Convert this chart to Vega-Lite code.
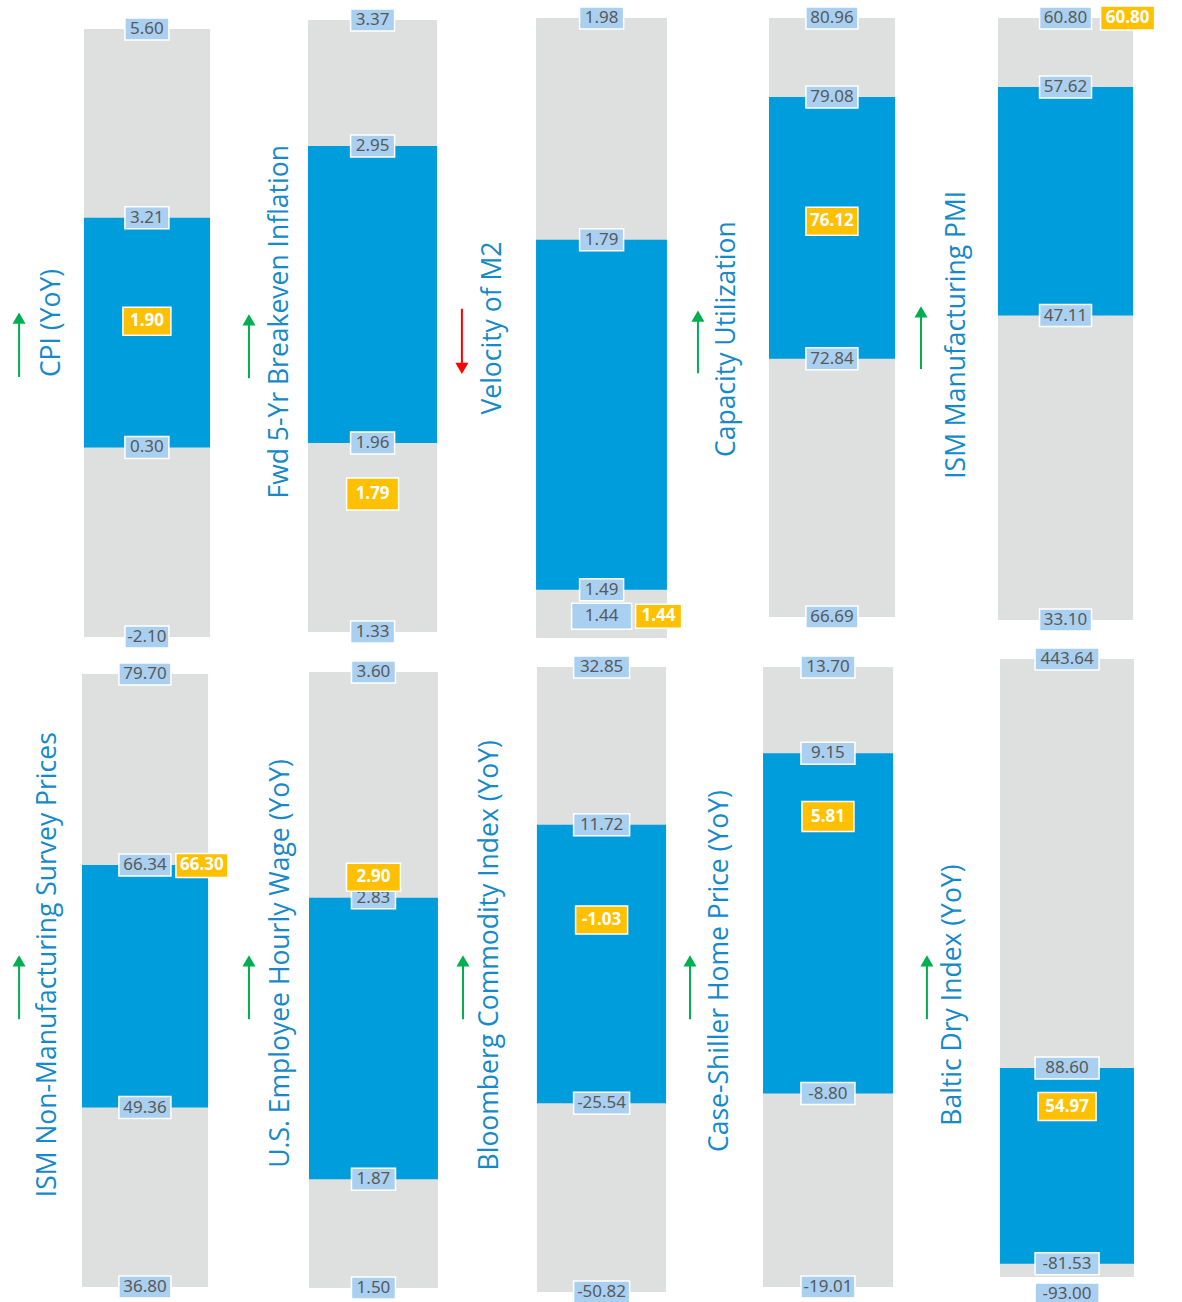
{
"$schema": "https://vega.github.io/schema/vega-lite/v6.json",
"padding": {"left": 5, "top": 3, "right": 0, "bottom": 0},
"background": "white",
"config": {"view": {"stroke": null}, "locale": {"number": {"decimal": ".", "thousands": ",", "grouping": [3], "currency": ["$", ""], "minus": "-"}}},
"datasets": {"stats": [
 {"name":"CPI (YoY)","direction":"up","max":5.60,"hi":3.21,"lo":0.30,"min":-2.10,"cur":1.90},
 {"name":"Fwd 5-Yr Breakeven Inflation","direction":"up","max":3.37,"hi":2.95,"lo":1.96,"min":1.33,"cur":1.79},
 {"name":"Velocity of M2","direction":"down","max":1.98,"hi":1.79,"lo":1.49,"min":1.44,"cur":1.44},
 {"name":"Capacity Utilization","direction":"up","max":80.96,"hi":79.08,"lo":72.84,"min":66.69,"cur":76.12},
 {"name":"ISM Manufacturing PMI","direction":"up","max":60.80,"hi":57.62,"lo":47.11,"min":33.10,"cur":60.80},
 {"name":"ISM Non-Manufacturing Survey Prices","direction":"up","max":79.70,"hi":66.34,"lo":49.36,"min":36.80,"cur":66.30},
 {"name":"U.S. Employee Hourly Wage (YoY)","direction":"up","max":3.60,"hi":2.83,"lo":1.87,"min":1.50,"cur":2.90},
 {"name":"Bloomberg Commodity Index (YoY)","direction":"up","max":32.85,"hi":11.72,"lo":-25.54,"min":-50.82,"cur":-1.03},
 {"name":"Case-Shiller Home Price (YoY)","direction":"up","max":13.70,"hi":9.15,"lo":-8.80,"min":-19.01,"cur":5.81},
 {"name":"Baltic Dry Index (YoY)","direction":"up","max":443.64,"hi":88.60,"lo":-81.53,"min":-93.00,"cur":54.97}
]},
"bounds": "flush",
"align": "each",
"columns": 5,
"spacing": {"row": 21, "column": 9},
"concat": [
{"width": 220, "height": 620, "data": {"name": "stats"}, "transform": [{"filter": {"field": "name", "equal": "CPI (YoY)"}}],
 "layer": [
  {"layer": [
   {"mark": {"type": "rect", "color": "#dedfdf"}, "encoding": {"x": {"datum": 0.359, "type": "quantitative", "scale": {"domain": [0, 1]}, "axis": null}, "x2": {"datum": 0.932}, "y": {"field": "min", "type": "quantitative", "scale": {"domain": [-2.113, 5.739], "nice": false, "zero": false}, "axis": null}, "y2": {"field": "max"}}},
   {"mark": {"type": "rect", "color": "#009ddc"}, "encoding": {"x": {"datum": 0.359, "type": "quantitative"}, "x2": {"datum": 0.932}, "y": {"field": "lo", "type": "quantitative"}, "y2": {"field": "hi"}}},
   {"transform": [{"fold": ["max", "hi", "lo", "min"], "as": ["stat", "value"]}], "mark": {"type": "point", "shape": "M-22,-11H22V11H-22Z", "size": 4, "filled": true, "fill": "#a9d0f0", "stroke": "#ffffff", "strokeWidth": 1.5, "opacity": 1}, "encoding": {"x": {"datum": 0.645, "type": "quantitative"}, "y": {"field": "value", "type": "quantitative"}}},
   {"transform": [{"fold": ["max", "hi", "lo", "min"], "as": ["stat", "value"]}], "mark": {"type": "text", "font": "Noto Sans", "fontSize": 17, "color": "#595959"}, "encoding": {"x": {"datum": 0.645, "type": "quantitative"}, "y": {"field": "value", "type": "quantitative"}, "text": {"field": "value", "type": "quantitative", "format": ".2f"}}},
   {"mark": {"type": "point", "shape": "M-24,-14H24V14H-24Z", "size": 4, "filled": true, "fill": "#ffc000", "stroke": "#ffffff", "strokeWidth": 1.5, "opacity": 1}, "encoding": {"x": {"datum": 0.645, "type": "quantitative"}, "y": {"field": "cur", "type": "quantitative"}}},
   {"mark": {"type": "text", "font": "Noto Sans", "fontSize": 17, "fontWeight": "bold", "color": "#ffffff"}, "encoding": {"x": {"datum": 0.645, "type": "quantitative"}, "y": {"field": "cur", "type": "quantitative"}, "text": {"field": "cur", "type": "quantitative", "format": ".2f"}}}
  ]},
  {"layer": [
   {"mark": {"type": "text", "angle": 270, "font": "Open Sans", "fontSize": 26.5, "color": "#1589cb"}, "encoding": {"x": {"datum": 0.214, "type": "quantitative"}, "y": {"datum": 0.508, "type": "quantitative", "scale": {"domain": [0, 1], "nice": false, "zero": false}, "axis": null}, "text": {"field": "name"}}},
   {"mark": {"type": "rule", "strokeWidth": 2}, "encoding": {"x": {"datum": 0.064, "type": "quantitative"}, "y": {"datum": 0.421, "type": "quantitative"}, "y2": {"datum": 0.516}, "color": {"field": "direction", "type": "nominal", "scale": {"domain": ["up", "down"], "range": ["#00b050", "#ff0000"]}, "legend": null}}},
   {"mark": {"type": "point", "shape": "triangle-up", "size": 170, "filled": true, "opacity": 1}, "encoding": {"x": {"datum": 0.064, "type": "quantitative"}, "y": {"datum": 0.516, "type": "quantitative"}, "color": {"field": "direction", "type": "nominal", "legend": null}}}
  ]}
 ],
 "resolve": {"scale": {"y": "independent"}}
},
{"width": 220, "height": 620, "data": {"name": "stats"}, "transform": [{"filter": {"field": "name", "equal": "Fwd 5-Yr Breakeven Inflation"}}],
 "layer": [
  {"layer": [
   {"mark": {"type": "rect", "color": "#dedfdf"}, "encoding": {"x": {"datum": 0.336, "type": "quantitative", "scale": {"domain": [0, 1]}, "axis": null}, "x2": {"datum": 0.923}, "y": {"field": "min", "type": "quantitative", "scale": {"domain": [1.31, 3.377], "nice": false, "zero": false}, "axis": null}, "y2": {"field": "max"}}},
   {"mark": {"type": "rect", "color": "#009ddc"}, "encoding": {"x": {"datum": 0.336, "type": "quantitative"}, "x2": {"datum": 0.923}, "y": {"field": "lo", "type": "quantitative"}, "y2": {"field": "hi"}}},
   {"transform": [{"fold": ["max", "hi", "lo", "min"], "as": ["stat", "value"]}], "mark": {"type": "point", "shape": "M-22,-11H22V11H-22Z", "size": 4, "filled": true, "fill": "#a9d0f0", "stroke": "#ffffff", "strokeWidth": 1.5, "opacity": 1}, "encoding": {"x": {"datum": 0.63, "type": "quantitative"}, "y": {"field": "value", "type": "quantitative"}}},
   {"transform": [{"fold": ["max", "hi", "lo", "min"], "as": ["stat", "value"]}], "mark": {"type": "text", "font": "Noto Sans", "fontSize": 17, "color": "#595959"}, "encoding": {"x": {"datum": 0.63, "type": "quantitative"}, "y": {"field": "value", "type": "quantitative"}, "text": {"field": "value", "type": "quantitative", "format": ".2f"}}},
   {"mark": {"type": "point", "shape": "M-26,-16H26V16H-26Z", "size": 4, "filled": true, "fill": "#ffc000", "stroke": "#ffffff", "strokeWidth": 1.5, "opacity": 1}, "encoding": {"x": {"datum": 0.63, "type": "quantitative"}, "y": {"field": "cur", "type": "quantitative"}}},
   {"mark": {"type": "text", "font": "Noto Sans", "fontSize": 17, "fontWeight": "bold", "color": "#ffffff"}, "encoding": {"x": {"datum": 0.63, "type": "quantitative"}, "y": {"field": "cur", "type": "quantitative"}, "text": {"field": "cur", "type": "quantitative", "format": ".2f"}}}
  ]},
  {"layer": [
   {"mark": {"type": "text", "angle": 270, "font": "Open Sans", "fontSize": 26.5, "color": "#1589cb"}, "encoding": {"x": {"datum": 0.209, "type": "quantitative"}, "y": {"datum": 0.51, "type": "quantitative", "scale": {"domain": [0, 1], "nice": false, "zero": false}, "axis": null}, "text": {"field": "name"}}},
   {"mark": {"type": "rule", "strokeWidth": 2}, "encoding": {"x": {"datum": 0.068, "type": "quantitative"}, "y": {"datum": 0.419, "type": "quantitative"}, "y2": {"datum": 0.513}, "color": {"field": "direction", "type": "nominal", "scale": {"domain": ["up", "down"], "range": ["#00b050", "#ff0000"]}, "legend": null}}},
   {"mark": {"type": "point", "shape": "triangle-up", "size": 170, "filled": true, "opacity": 1}, "encoding": {"x": {"datum": 0.068, "type": "quantitative"}, "y": {"datum": 0.513, "type": "quantitative"}, "color": {"field": "direction", "type": "nominal", "legend": null}}}
  ]}
 ],
 "resolve": {"scale": {"y": "independent"}}
},
{"width": 220, "height": 620, "data": {"name": "stats"}, "transform": [{"filter": {"field": "name", "equal": "Velocity of M2"}}],
 "layer": [
  {"layer": [
   {"mark": {"type": "rect", "color": "#dedfdf", "clip": true}, "encoding": {"x": {"datum": 0.332, "type": "quantitative", "scale": {"domain": [0, 1]}, "axis": null}, "x2": {"datum": 0.927}, "y": {"field": "min", "type": "quantitative", "scale": {"domain": [1.4487, 1.98], "nice": false, "zero": false}, "axis": null}, "y2": {"field": "max"}}},
   {"mark": {"type": "rect", "color": "#009ddc"}, "encoding": {"x": {"datum": 0.332, "type": "quantitative"}, "x2": {"datum": 0.927}, "y": {"field": "lo", "type": "quantitative"}, "y2": {"field": "hi"}}},
   {"transform": [{"fold": ["max", "hi", "lo"], "as": ["stat", "value"]}], "mark": {"type": "point", "shape": "M-22,-11H22V11H-22Z", "size": 4, "filled": true, "fill": "#a9d0f0", "stroke": "#ffffff", "strokeWidth": 1.5, "opacity": 1}, "encoding": {"x": {"datum": 0.63, "type": "quantitative"}, "y": {"field": "value", "type": "quantitative"}}},
   {"transform": [{"fold": ["max", "hi", "lo"], "as": ["stat", "value"]}], "mark": {"type": "text", "font": "Noto Sans", "fontSize": 17, "color": "#595959"}, "encoding": {"x": {"datum": 0.63, "type": "quantitative"}, "y": {"field": "value", "type": "quantitative"}, "text": {"field": "value", "type": "quantitative", "format": ".2f"}}},
   {"mark": {"type": "point", "shape": "M-30,-45H30V-19H-30Z", "size": 4, "filled": true, "fill": "#a9d0f0", "stroke": "#ffffff", "strokeWidth": 1.5, "opacity": 1}, "encoding": {"x": {"datum": 0.63, "type": "quantitative"}, "y": {"field": "min", "type": "quantitative"}}},
   {"mark": {"type": "text", "font": "Noto Sans", "fontSize": 17, "color": "#595959", "dy": -32}, "encoding": {"x": {"datum": 0.63, "type": "quantitative"}, "y": {"field": "min", "type": "quantitative"}, "text": {"field": "min", "type": "quantitative", "format": ".2f"}}},
   {"mark": {"type": "point", "shape": "M-23,-44H23V-20H-23Z", "size": 4, "filled": true, "fill": "#ffc000", "stroke": "#ffffff", "strokeWidth": 1.5, "opacity": 1}, "encoding": {"x": {"datum": 0.889, "type": "quantitative"}, "y": {"field": "cur", "type": "quantitative"}}},
   {"mark": {"type": "text", "font": "Noto Sans", "fontSize": 17, "fontWeight": "bold", "color": "#ffffff", "dy": -32}, "encoding": {"x": {"datum": 0.889, "type": "quantitative"}, "y": {"field": "cur", "type": "quantitative"}, "text": {"field": "cur", "type": "quantitative", "format": ".2f"}}}
  ]},
  {"layer": [
   {"mark": {"type": "text", "angle": 270, "font": "Open Sans", "fontSize": 26.5, "color": "#1589cb"}, "encoding": {"x": {"datum": 0.136, "type": "quantitative"}, "y": {"datum": 0.5, "type": "quantitative", "scale": {"domain": [0, 1], "nice": false, "zero": false}, "axis": null}, "text": {"field": "name"}}},
   {"mark": {"type": "rule", "strokeWidth": 2}, "encoding": {"x": {"datum": -0.005, "type": "quantitative"}, "y": {"datum": 0.531, "type": "quantitative"}, "y2": {"datum": 0.435}, "color": {"field": "direction", "type": "nominal", "scale": {"domain": ["up", "down"], "range": ["#00b050", "#ff0000"]}, "legend": null}}},
   {"mark": {"type": "point", "shape": "triangle-down", "size": 170, "filled": true, "opacity": 1}, "encoding": {"x": {"datum": -0.005, "type": "quantitative"}, "y": {"datum": 0.435, "type": "quantitative"}, "color": {"field": "direction", "type": "nominal", "legend": null}}}
  ]}
 ],
 "resolve": {"scale": {"y": "independent"}}
},
{"width": 220, "height": 620, "data": {"name": "stats"}, "transform": [{"filter": {"field": "name", "equal": "Capacity Utilization"}}],
 "layer": [
  {"layer": [
   {"mark": {"type": "rect", "color": "#dedfdf"}, "encoding": {"x": {"datum": 0.35, "type": "quantitative", "scale": {"domain": [0, 1]}, "axis": null}, "x2": {"datum": 0.923}, "y": {"field": "min", "type": "quantitative", "scale": {"domain": [66.19, 80.96], "nice": false, "zero": false}, "axis": null}, "y2": {"field": "max"}}},
   {"mark": {"type": "rect", "color": "#009ddc"}, "encoding": {"x": {"datum": 0.35, "type": "quantitative"}, "x2": {"datum": 0.923}, "y": {"field": "lo", "type": "quantitative"}, "y2": {"field": "hi"}}},
   {"transform": [{"fold": ["max", "hi", "lo", "min"], "as": ["stat", "value"]}], "mark": {"type": "point", "shape": "M-26,-11H26V11H-26Z", "size": 4, "filled": true, "fill": "#a9d0f0", "stroke": "#ffffff", "strokeWidth": 1.5, "opacity": 1}, "encoding": {"x": {"datum": 0.636, "type": "quantitative"}, "y": {"field": "value", "type": "quantitative"}}},
   {"transform": [{"fold": ["max", "hi", "lo", "min"], "as": ["stat", "value"]}], "mark": {"type": "text", "font": "Noto Sans", "fontSize": 17, "color": "#595959"}, "encoding": {"x": {"datum": 0.636, "type": "quantitative"}, "y": {"field": "value", "type": "quantitative"}, "text": {"field": "value", "type": "quantitative", "format": ".2f"}}},
   {"mark": {"type": "point", "shape": "M-26,-14H26V14H-26Z", "size": 4, "filled": true, "fill": "#ffc000", "stroke": "#ffffff", "strokeWidth": 1.5, "opacity": 1}, "encoding": {"x": {"datum": 0.636, "type": "quantitative"}, "y": {"field": "cur", "type": "quantitative"}}},
   {"mark": {"type": "text", "font": "Noto Sans", "fontSize": 17, "fontWeight": "bold", "color": "#ffffff"}, "encoding": {"x": {"datum": 0.636, "type": "quantitative"}, "y": {"field": "cur", "type": "quantitative"}, "text": {"field": "cur", "type": "quantitative", "format": ".2f"}}}
  ]},
  {"layer": [
   {"mark": {"type": "text", "angle": 270, "font": "Open Sans", "fontSize": 26.5, "color": "#1589cb"}, "encoding": {"x": {"datum": 0.159, "type": "quantitative"}, "y": {"datum": 0.482, "type": "quantitative", "scale": {"domain": [0, 1], "nice": false, "zero": false}, "axis": null}, "text": {"field": "name"}}},
   {"mark": {"type": "rule", "strokeWidth": 2}, "encoding": {"x": {"datum": 0.027, "type": "quantitative"}, "y": {"datum": 0.427, "type": "quantitative"}, "y2": {"datum": 0.519}, "color": {"field": "direction", "type": "nominal", "scale": {"domain": ["up", "down"], "range": ["#00b050", "#ff0000"]}, "legend": null}}},
   {"mark": {"type": "point", "shape": "triangle-up", "size": 170, "filled": true, "opacity": 1}, "encoding": {"x": {"datum": 0.027, "type": "quantitative"}, "y": {"datum": 0.519, "type": "quantitative"}, "color": {"field": "direction", "type": "nominal", "legend": null}}}
  ]}
 ],
 "resolve": {"scale": {"y": "independent"}}
},
{"width": 220, "height": 620, "data": {"name": "stats"}, "transform": [{"filter": {"field": "name", "equal": "ISM Manufacturing PMI"}}],
 "layer": [
  {"layer": [
   {"mark": {"type": "rect", "color": "#dedfdf"}, "encoding": {"x": {"datum": 0.35, "type": "quantitative", "scale": {"domain": [0, 1]}, "axis": null}, "x2": {"datum": 0.964}, "y": {"field": "min", "type": "quantitative", "scale": {"domain": [32.27, 60.80], "nice": false, "zero": false}, "axis": null}, "y2": {"field": "max"}}},
   {"mark": {"type": "rect", "color": "#009ddc"}, "encoding": {"x": {"datum": 0.35, "type": "quantitative"}, "x2": {"datum": 0.964}, "y": {"field": "lo", "type": "quantitative"}, "y2": {"field": "hi"}}},
   {"transform": [{"fold": ["max", "hi", "lo", "min"], "as": ["stat", "value"]}], "mark": {"type": "point", "shape": "M-26,-11H26V11H-26Z", "size": 4, "filled": true, "fill": "#a9d0f0", "stroke": "#ffffff", "strokeWidth": 1.5, "opacity": 1}, "encoding": {"x": {"datum": 0.657, "type": "quantitative"}, "y": {"field": "value", "type": "quantitative"}}},
   {"transform": [{"fold": ["max", "hi", "lo", "min"], "as": ["stat", "value"]}], "mark": {"type": "text", "font": "Noto Sans", "fontSize": 17, "color": "#595959"}, "encoding": {"x": {"datum": 0.657, "type": "quantitative"}, "y": {"field": "value", "type": "quantitative"}, "text": {"field": "value", "type": "quantitative", "format": ".2f"}}},
   {"mark": {"type": "point", "shape": "M-27,-12H27V12H-27Z", "size": 4, "filled": true, "fill": "#ffc000", "stroke": "#ffffff", "strokeWidth": 1.5, "opacity": 1}, "encoding": {"x": {"datum": 0.939, "type": "quantitative"}, "y": {"field": "cur", "type": "quantitative"}}},
   {"mark": {"type": "text", "font": "Noto Sans", "fontSize": 17, "fontWeight": "bold", "color": "#ffffff"}, "encoding": {"x": {"datum": 0.939, "type": "quantitative"}, "y": {"field": "cur", "type": "quantitative"}, "text": {"field": "cur", "type": "quantitative", "format": ".2f"}}}
  ]},
  {"layer": [
   {"mark": {"type": "text", "angle": 270, "font": "Open Sans", "fontSize": 26.5, "color": "#1589cb"}, "encoding": {"x": {"datum": 0.164, "type": "quantitative"}, "y": {"datum": 0.489, "type": "quantitative", "scale": {"domain": [0, 1], "nice": false, "zero": false}, "axis": null}, "text": {"field": "name"}}},
   {"mark": {"type": "rule", "strokeWidth": 2}, "encoding": {"x": {"datum": 0.0, "type": "quantitative"}, "y": {"datum": 0.434, "type": "quantitative"}, "y2": {"datum": 0.526}, "color": {"field": "direction", "type": "nominal", "scale": {"domain": ["up", "down"], "range": ["#00b050", "#ff0000"]}, "legend": null}}},
   {"mark": {"type": "point", "shape": "triangle-up", "size": 170, "filled": true, "opacity": 1}, "encoding": {"x": {"datum": 0.0, "type": "quantitative"}, "y": {"datum": 0.526, "type": "quantitative"}, "color": {"field": "direction", "type": "nominal", "legend": null}}}
  ]}
 ],
 "resolve": {"scale": {"y": "independent"}}
},
{"width": 220, "height": 633, "data": {"name": "stats"}, "transform": [{"filter": {"field": "name", "equal": "ISM Non-Manufacturing Survey Prices"}}],
 "layer": [
  {"layer": [
   {"mark": {"type": "rect", "color": "#dedfdf"}, "encoding": {"x": {"datum": 0.35, "type": "quantitative", "scale": {"domain": [0, 1]}, "axis": null}, "x2": {"datum": 0.923}, "y": {"field": "min", "type": "quantitative", "scale": {"domain": [36.45, 80.75], "nice": false, "zero": false}, "axis": null}, "y2": {"field": "max"}}},
   {"mark": {"type": "rect", "color": "#009ddc"}, "encoding": {"x": {"datum": 0.35, "type": "quantitative"}, "x2": {"datum": 0.923}, "y": {"field": "lo", "type": "quantitative"}, "y2": {"field": "hi"}}},
   {"transform": [{"fold": ["max", "hi", "lo", "min"], "as": ["stat", "value"]}], "mark": {"type": "point", "shape": "M-26,-11H26V11H-26Z", "size": 4, "filled": true, "fill": "#a9d0f0", "stroke": "#ffffff", "strokeWidth": 1.5, "opacity": 1}, "encoding": {"x": {"datum": 0.636, "type": "quantitative"}, "y": {"field": "value", "type": "quantitative"}}},
   {"transform": [{"fold": ["max", "hi", "lo", "min"], "as": ["stat", "value"]}], "mark": {"type": "text", "font": "Noto Sans", "fontSize": 17, "color": "#595959"}, "encoding": {"x": {"datum": 0.636, "type": "quantitative"}, "y": {"field": "value", "type": "quantitative"}, "text": {"field": "value", "type": "quantitative", "format": ".2f"}}},
   {"mark": {"type": "point", "shape": "M-26,-12H26V12H-26Z", "size": 4, "filled": true, "fill": "#ffc000", "stroke": "#ffffff", "strokeWidth": 1.5, "opacity": 1}, "encoding": {"x": {"datum": 0.895, "type": "quantitative"}, "y": {"field": "cur", "type": "quantitative"}}},
   {"mark": {"type": "text", "font": "Noto Sans", "fontSize": 17, "fontWeight": "bold", "color": "#ffffff"}, "encoding": {"x": {"datum": 0.895, "type": "quantitative"}, "y": {"field": "cur", "type": "quantitative"}, "text": {"field": "cur", "type": "quantitative", "format": ".2f"}}}
  ]},
  {"layer": [
   {"mark": {"type": "text", "angle": 270, "font": "Open Sans", "fontSize": 26.5, "color": "#1589cb"}, "encoding": {"x": {"datum": 0.195, "type": "quantitative"}, "y": {"datum": 0.517, "type": "quantitative", "scale": {"domain": [0, 1], "nice": false, "zero": false}, "axis": null}, "text": {"field": "name"}}},
   {"mark": {"type": "rule", "strokeWidth": 2}, "encoding": {"x": {"datum": 0.064, "type": "quantitative"}, "y": {"datum": 0.431, "type": "quantitative"}, "y2": {"datum": 0.523}, "color": {"field": "direction", "type": "nominal", "scale": {"domain": ["up", "down"], "range": ["#00b050", "#ff0000"]}, "legend": null}}},
   {"mark": {"type": "point", "shape": "triangle-up", "size": 170, "filled": true, "opacity": 1}, "encoding": {"x": {"datum": 0.064, "type": "quantitative"}, "y": {"datum": 0.523, "type": "quantitative"}, "color": {"field": "direction", "type": "nominal", "legend": null}}}
  ]}
 ],
 "resolve": {"scale": {"y": "independent"}}
},
{"width": 220, "height": 633, "data": {"name": "stats"}, "transform": [{"filter": {"field": "name", "equal": "U.S. Employee Hourly Wage (YoY)"}}],
 "layer": [
  {"layer": [
   {"mark": {"type": "rect", "color": "#dedfdf"}, "encoding": {"x": {"datum": 0.341, "type": "quantitative", "scale": {"domain": [0, 1]}, "axis": null}, "x2": {"datum": 0.927}, "y": {"field": "min", "type": "quantitative", "scale": {"domain": [1.486, 3.644], "nice": false, "zero": false}, "axis": null}, "y2": {"field": "max"}}},
   {"mark": {"type": "rect", "color": "#009ddc"}, "encoding": {"x": {"datum": 0.341, "type": "quantitative"}, "x2": {"datum": 0.927}, "y": {"field": "lo", "type": "quantitative"}, "y2": {"field": "hi"}}},
   {"transform": [{"fold": ["max", "hi", "lo", "min"], "as": ["stat", "value"]}], "mark": {"type": "point", "shape": "M-22,-11H22V11H-22Z", "size": 4, "filled": true, "fill": "#a9d0f0", "stroke": "#ffffff", "strokeWidth": 1.5, "opacity": 1}, "encoding": {"x": {"datum": 0.634, "type": "quantitative"}, "y": {"field": "value", "type": "quantitative"}}},
   {"transform": [{"fold": ["max", "hi", "lo", "min"], "as": ["stat", "value"]}], "mark": {"type": "text", "font": "Noto Sans", "fontSize": 17, "color": "#595959"}, "encoding": {"x": {"datum": 0.634, "type": "quantitative"}, "y": {"field": "value", "type": "quantitative"}, "text": {"field": "value", "type": "quantitative", "format": ".2f"}}},
   {"mark": {"type": "point", "shape": "M-27,-14H27V14H-27Z", "size": 4, "filled": true, "fill": "#ffc000", "stroke": "#ffffff", "strokeWidth": 1.5, "opacity": 1}, "encoding": {"x": {"datum": 0.634, "type": "quantitative"}, "y": {"field": "cur", "type": "quantitative"}}},
   {"mark": {"type": "text", "font": "Noto Sans", "fontSize": 17, "fontWeight": "bold", "color": "#ffffff"}, "encoding": {"x": {"datum": 0.634, "type": "quantitative"}, "y": {"field": "cur", "type": "quantitative"}, "text": {"field": "cur", "type": "quantitative", "format": ".2f"}}}
  ]},
  {"layer": [
   {"mark": {"type": "text", "angle": 270, "font": "Open Sans", "fontSize": 26.5, "color": "#1589cb"}, "encoding": {"x": {"datum": 0.214, "type": "quantitative"}, "y": {"datum": 0.519, "type": "quantitative", "scale": {"domain": [0, 1], "nice": false, "zero": false}, "axis": null}, "text": {"field": "name"}}},
   {"mark": {"type": "rule", "strokeWidth": 2}, "encoding": {"x": {"datum": 0.068, "type": "quantitative"}, "y": {"datum": 0.431, "type": "quantitative"}, "y2": {"datum": 0.523}, "color": {"field": "direction", "type": "nominal", "scale": {"domain": ["up", "down"], "range": ["#00b050", "#ff0000"]}, "legend": null}}},
   {"mark": {"type": "point", "shape": "triangle-up", "size": 170, "filled": true, "opacity": 1}, "encoding": {"x": {"datum": 0.068, "type": "quantitative"}, "y": {"datum": 0.523, "type": "quantitative"}, "color": {"field": "direction", "type": "nominal", "legend": null}}}
  ]}
 ],
 "resolve": {"scale": {"y": "independent"}}
},
{"width": 220, "height": 633, "data": {"name": "stats"}, "transform": [{"filter": {"field": "name", "equal": "Bloomberg Commodity Index (YoY)"}}],
 "layer": [
  {"layer": [
   {"mark": {"type": "rect", "color": "#dedfdf"}, "encoding": {"x": {"datum": 0.336, "type": "quantitative", "scale": {"domain": [0, 1]}, "axis": null}, "x2": {"datum": 0.923}, "y": {"field": "min", "type": "quantitative", "scale": {"domain": [-50.82, 33.92], "nice": false, "zero": false}, "axis": null}, "y2": {"field": "max"}}},
   {"mark": {"type": "rect", "color": "#009ddc"}, "encoding": {"x": {"datum": 0.336, "type": "quantitative"}, "x2": {"datum": 0.923}, "y": {"field": "lo", "type": "quantitative"}, "y2": {"field": "hi"}}},
   {"transform": [{"fold": ["max", "hi", "lo", "min"], "as": ["stat", "value"]}], "mark": {"type": "point", "shape": "M-28,-11H28V11H-28Z", "size": 4, "filled": true, "fill": "#a9d0f0", "stroke": "#ffffff", "strokeWidth": 1.5, "opacity": 1}, "encoding": {"x": {"datum": 0.63, "type": "quantitative"}, "y": {"field": "value", "type": "quantitative"}}},
   {"transform": [{"fold": ["max", "hi", "lo", "min"], "as": ["stat", "value"]}], "mark": {"type": "text", "font": "Noto Sans", "fontSize": 17, "color": "#595959"}, "encoding": {"x": {"datum": 0.63, "type": "quantitative"}, "y": {"field": "value", "type": "quantitative"}, "text": {"field": "value", "type": "quantitative", "format": ".2f"}}},
   {"mark": {"type": "point", "shape": "M-26,-14H26V14H-26Z", "size": 4, "filled": true, "fill": "#ffc000", "stroke": "#ffffff", "strokeWidth": 1.5, "opacity": 1}, "encoding": {"x": {"datum": 0.63, "type": "quantitative"}, "y": {"field": "cur", "type": "quantitative"}}},
   {"mark": {"type": "text", "font": "Noto Sans", "fontSize": 17, "fontWeight": "bold", "color": "#ffffff"}, "encoding": {"x": {"datum": 0.63, "type": "quantitative"}, "y": {"field": "cur", "type": "quantitative"}, "text": {"field": "cur", "type": "quantitative", "format": ".2f"}}}
  ]},
  {"layer": [
   {"mark": {"type": "text", "angle": 270, "font": "Open Sans", "fontSize": 26.5, "color": "#1589cb"}, "encoding": {"x": {"datum": 0.123, "type": "quantitative"}, "y": {"datum": 0.532, "type": "quantitative", "scale": {"domain": [0, 1], "nice": false, "zero": false}, "axis": null}, "text": {"field": "name"}}},
   {"mark": {"type": "rule", "strokeWidth": 2}, "encoding": {"x": {"datum": 0.0, "type": "quantitative"}, "y": {"datum": 0.431, "type": "quantitative"}, "y2": {"datum": 0.523}, "color": {"field": "direction", "type": "nominal", "scale": {"domain": ["up", "down"], "range": ["#00b050", "#ff0000"]}, "legend": null}}},
   {"mark": {"type": "point", "shape": "triangle-up", "size": 170, "filled": true, "opacity": 1}, "encoding": {"x": {"datum": 0.0, "type": "quantitative"}, "y": {"datum": 0.523, "type": "quantitative"}, "color": {"field": "direction", "type": "nominal", "legend": null}}}
  ]}
 ],
 "resolve": {"scale": {"y": "independent"}}
},
{"width": 220, "height": 633, "data": {"name": "stats"}, "transform": [{"filter": {"field": "name", "equal": "Case-Shiller Home Price (YoY)"}}],
 "layer": [
  {"layer": [
   {"mark": {"type": "rect", "color": "#dedfdf"}, "encoding": {"x": {"datum": 0.323, "type": "quantitative", "scale": {"domain": [0, 1]}, "axis": null}, "x2": {"datum": 0.914}, "y": {"field": "min", "type": "quantitative", "scale": {"domain": [-19.27, 14.12], "nice": false, "zero": false}, "axis": null}, "y2": {"field": "max"}}},
   {"mark": {"type": "rect", "color": "#009ddc"}, "encoding": {"x": {"datum": 0.323, "type": "quantitative"}, "x2": {"datum": 0.914}, "y": {"field": "lo", "type": "quantitative"}, "y2": {"field": "hi"}}},
   {"transform": [{"fold": ["max", "hi", "lo", "min"], "as": ["stat", "value"]}], "mark": {"type": "point", "shape": "M-27,-11H27V11H-27Z", "size": 4, "filled": true, "fill": "#a9d0f0", "stroke": "#ffffff", "strokeWidth": 1.5, "opacity": 1}, "encoding": {"x": {"datum": 0.618, "type": "quantitative"}, "y": {"field": "value", "type": "quantitative"}}},
   {"transform": [{"fold": ["max", "hi", "lo", "min"], "as": ["stat", "value"]}], "mark": {"type": "text", "font": "Noto Sans", "fontSize": 17, "color": "#595959"}, "encoding": {"x": {"datum": 0.618, "type": "quantitative"}, "y": {"field": "value", "type": "quantitative"}, "text": {"field": "value", "type": "quantitative", "format": ".2f"}}},
   {"mark": {"type": "point", "shape": "M-26,-15H26V15H-26Z", "size": 4, "filled": true, "fill": "#ffc000", "stroke": "#ffffff", "strokeWidth": 1.5, "opacity": 1}, "encoding": {"x": {"datum": 0.618, "type": "quantitative"}, "y": {"field": "cur", "type": "quantitative"}}},
   {"mark": {"type": "text", "font": "Noto Sans", "fontSize": 17, "fontWeight": "bold", "color": "#ffffff"}, "encoding": {"x": {"datum": 0.618, "type": "quantitative"}, "y": {"field": "cur", "type": "quantitative"}, "text": {"field": "cur", "type": "quantitative", "format": ".2f"}}}
  ]},
  {"layer": [
   {"mark": {"type": "text", "angle": 270, "font": "Open Sans", "fontSize": 26.5, "color": "#1589cb"}, "encoding": {"x": {"datum": 0.127, "type": "quantitative"}, "y": {"datum": 0.507, "type": "quantitative", "scale": {"domain": [0, 1], "nice": false, "zero": false}, "axis": null}, "text": {"field": "name"}}},
   {"mark": {"type": "rule", "strokeWidth": 2}, "encoding": {"x": {"datum": -0.009, "type": "quantitative"}, "y": {"datum": 0.431, "type": "quantitative"}, "y2": {"datum": 0.523}, "color": {"field": "direction", "type": "nominal", "scale": {"domain": ["up", "down"], "range": ["#00b050", "#ff0000"]}, "legend": null}}},
   {"mark": {"type": "point", "shape": "triangle-up", "size": 170, "filled": true, "opacity": 1}, "encoding": {"x": {"datum": -0.009, "type": "quantitative"}, "y": {"datum": 0.523, "type": "quantitative"}, "color": {"field": "direction", "type": "nominal", "legend": null}}}
  ]}
 ],
 "resolve": {"scale": {"y": "independent"}}
},
{"width": 220, "height": 633, "data": {"name": "stats"}, "transform": [{"filter": {"field": "name", "equal": "Baltic Dry Index (YoY)"}}],
 "layer": [
  {"layer": [
   {"mark": {"type": "rect", "color": "#dedfdf"}, "encoding": {"x": {"datum": 0.359, "type": "quantitative", "scale": {"domain": [0, 1]}, "axis": null}, "x2": {"datum": 0.968}, "y": {"field": "min", "type": "quantitative", "scale": {"domain": [-106, 443.64], "nice": false, "zero": false}, "axis": null}, "y2": {"field": "max"}}},
   {"mark": {"type": "rect", "color": "#009ddc"}, "encoding": {"x": {"datum": 0.359, "type": "quantitative"}, "x2": {"datum": 0.968}, "y": {"field": "lo", "type": "quantitative"}, "y2": {"field": "hi"}}},
   {"transform": [{"fold": ["max", "hi", "lo"], "as": ["stat", "value"]}], "mark": {"type": "point", "shape": "M-32,-11H32V11H-32Z", "size": 4, "filled": true, "fill": "#a9d0f0", "stroke": "#ffffff", "strokeWidth": 1.5, "opacity": 1}, "encoding": {"x": {"datum": 0.664, "type": "quantitative"}, "y": {"field": "value", "type": "quantitative"}}},
   {"transform": [{"fold": ["max", "hi", "lo"], "as": ["stat", "value"]}], "mark": {"type": "text", "font": "Noto Sans", "fontSize": 17, "color": "#595959"}, "encoding": {"x": {"datum": 0.664, "type": "quantitative"}, "y": {"field": "value", "type": "quantitative"}, "text": {"field": "value", "type": "quantitative", "format": ".2f"}}},
   {"mark": {"type": "point", "shape": "M-32,6H32V28H-32Z", "size": 4, "filled": true, "fill": "#a9d0f0", "stroke": "#ffffff", "strokeWidth": 1.5, "opacity": 1}, "encoding": {"x": {"datum": 0.664, "type": "quantitative"}, "y": {"field": "min", "type": "quantitative"}}},
   {"mark": {"type": "text", "font": "Noto Sans", "fontSize": 17, "color": "#595959", "dy": 17}, "encoding": {"x": {"datum": 0.664, "type": "quantitative"}, "y": {"field": "min", "type": "quantitative"}, "text": {"field": "min", "type": "quantitative", "format": ".2f"}}},
   {"mark": {"type": "point", "shape": "M-29,-14H29V14H-29Z", "size": 4, "filled": true, "fill": "#ffc000", "stroke": "#ffffff", "strokeWidth": 1.5, "opacity": 1}, "encoding": {"x": {"datum": 0.664, "type": "quantitative"}, "y": {"field": "cur", "type": "quantitative"}}},
   {"mark": {"type": "text", "font": "Noto Sans", "fontSize": 17, "fontWeight": "bold", "color": "#ffffff"}, "encoding": {"x": {"datum": 0.664, "type": "quantitative"}, "y": {"field": "cur", "type": "quantitative"}, "text": {"field": "cur", "type": "quantitative", "format": ".2f"}}}
  ]},
  {"layer": [
   {"mark": {"type": "text", "angle": 270, "font": "Open Sans", "fontSize": 26.5, "color": "#1589cb"}, "encoding": {"x": {"datum": 0.145, "type": "quantitative"}, "y": {"datum": 0.469, "type": "quantitative", "scale": {"domain": [0, 1], "nice": false, "zero": false}, "axis": null}, "text": {"field": "name"}}},
   {"mark": {"type": "rule", "strokeWidth": 2}, "encoding": {"x": {"datum": 0.027, "type": "quantitative"}, "y": {"datum": 0.431, "type": "quantitative"}, "y2": {"datum": 0.523}, "color": {"field": "direction", "type": "nominal", "scale": {"domain": ["up", "down"], "range": ["#00b050", "#ff0000"]}, "legend": null}}},
   {"mark": {"type": "point", "shape": "triangle-up", "size": 170, "filled": true, "opacity": 1}, "encoding": {"x": {"datum": 0.027, "type": "quantitative"}, "y": {"datum": 0.523, "type": "quantitative"}, "color": {"field": "direction", "type": "nominal", "legend": null}}}
  ]}
 ],
 "resolve": {"scale": {"y": "independent"}}
}
]
}
